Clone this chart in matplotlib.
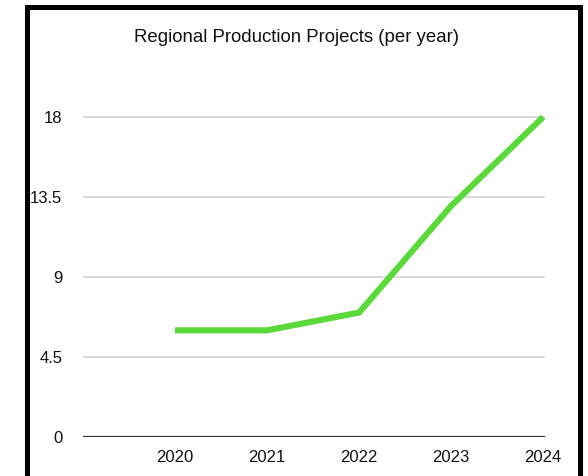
import matplotlib
matplotlib.use("Agg")
import matplotlib.pyplot as plt
from matplotlib.patches import Rectangle

years = ["2020", "2021", "2022", "2023", "2024"]
projects = [6, 6, 7, 13, 18]
y_ticks = [0, 4.5, 9, 13.5, 18]
y_tick_labels = ["0", "4.5", "9", "13.5", "18"]
title = "Regional Production Projects (per year)"

plt.rcParams["font.family"] = ["Liberation Sans", "DejaVu Sans"]

W, H = 588, 476
fig = plt.figure(figsize=(W / 100, H / 100), dpi=100)
fig.patch.set_facecolor("white")

# plot area in pixel terms: x from 83 to 545, y from 437 (zero) upward
ax = fig.add_axes([83 / W, (H - 437) / H, 462 / W, 340 / H])
ax.set_facecolor("none")

x = list(range(len(years)))
ax.set_xlim(-1, 4.02)
ax.set_ylim(0, 18 * 340 / 320)

ax.set_yticks(y_ticks)
ax.set_yticklabels(y_tick_labels)
ax.set_xticks(x)
ax.set_xticklabels(years)

for v in y_ticks[1:]:
    ax.axhline(v, color="#d4d4d4", lw=1.2, zorder=1)
ax.axhline(0, color="#333333", lw=1.6, zorder=2)

ax.plot(x, projects, color="#5bd83a", lw=4.4, solid_capstyle="butt",
        solid_joinstyle="miter", zorder=3, clip_on=False)

for s in ax.spines.values():
    s.set_visible(False)
ax.tick_params(axis="both", length=0, labelsize=12, colors="#111111")
ax.tick_params(axis="y", pad=15)
ax.tick_params(axis="x", pad=9)

fig.text(296 / W, 1 - 38 / H, title, ha="center", va="center",
         fontsize=13.4, color="#111111")

# black frame around the chart
frame = Rectangle((26.5 / W, -0.05), (580 - 26.5) / W, 1.05 - 7.5 / H,
                  transform=fig.transFigure, fill=False, edgecolor="black",
                  lw=3.6, zorder=10)
fig.patches.append(frame)

fig.savefig("out.png", dpi=100, facecolor="white")
